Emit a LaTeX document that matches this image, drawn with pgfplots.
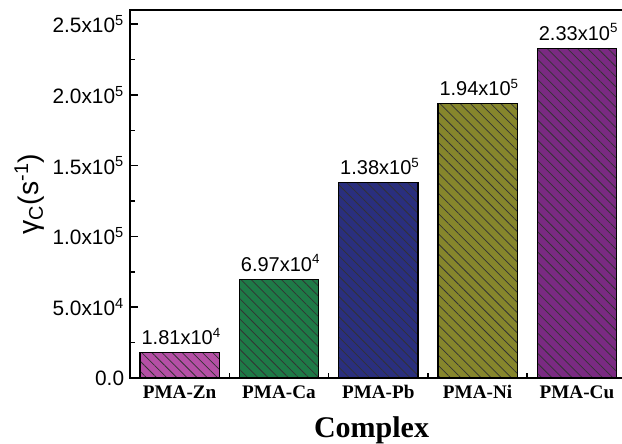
\documentclass[border=0pt]{standalone}
\usepackage{fontspec}
\setmainfont{Liberation Sans}
\newfontfamily\tnr{Liberation Serif}
\usepackage{pgfplots}
\pgfplotsset{compat=1.18}
\usetikzlibrary{patterns.meta}
\definecolor{cZn}{HTML}{B54FA5}
\definecolor{cCa}{HTML}{1E7A47}
\definecolor{cPb}{HTML}{2A2F7E}
\definecolor{cNi}{HTML}{86862C}
\definecolor{cCu}{HTML}{7A2A82}
\tikzset{hatch/.style={postaction={pattern={Lines[angle=-45, distance=4.3pt, line width=0.45pt]}, pattern color=black!80}}}
\begin{document}
\begin{tikzpicture}
\useasboundingbox (-78pt,-39.6pt) rectangle (295.2pt,226.8pt);
\begin{axis}[
  at={(0,0)}, anchor=south west,
  scale only axis, width=303.9pt, height=220.8pt,
  xmin=-0.5, xmax=4.6, ymin=0, ymax=260000,
  axis line style={line width=1.1pt},
  tick style={line width=0.9pt, black},
  tick align=inside,
  major tick length=4.8pt, minor tick length=3pt,
  xtick={0,1,2,3,4},
  xticklabels={PMA-Zn,PMA-Ca,PMA-Pb,PMA-Ni,PMA-Cu},
  minor xtick={0.5,1.5,2.5,3.5},
  xticklabel style={font=\tnr\bfseries\fontsize{11.5}{12}\selectfont, yshift=-1pt},
  ytick={0,50000,100000,150000,200000,250000},
  yticklabels={0.0,5.0x10\textsuperscript{4},1.0x10\textsuperscript{5},1.5x10\textsuperscript{5},2.0x10\textsuperscript{5},2.5x10\textsuperscript{5}},
  minor ytick={25000,75000,125000,175000,225000},
  scaled y ticks=false,
  yticklabel style={font=\fontsize{12.5}{13}\selectfont},
  xtick pos=bottom, ytick pos=left,
  xlabel={\tnr\bfseries Complex},
  xlabel style={font=\fontsize{18}{20}\selectfont, yshift=-4pt, xshift=-7pt},
  ylabel={γ\textsubscript{C}(s\textsuperscript{-1})},
  ylabel style={font=\fontsize{17}{19}\selectfont, yshift=-2pt},
  point meta=explicit symbolic,
  nodes near coords,
  every node near coord/.append style={font=\fontsize{12}{13}\selectfont, black, anchor=south, yshift=1pt, xshift=1pt},
  bar width=0.8,
]
\addplot[ybar, bar shift=0pt, fill=cZn, draw=black, line width=0.8pt, hatch] coordinates {(0,18100) [1.81x10\textsuperscript{4}]};
\addplot[ybar, bar shift=0pt, fill=cCa, draw=black, line width=0.8pt, hatch] coordinates {(1,69700) [6.97x10\textsuperscript{4}]};
\addplot[ybar, bar shift=0pt, fill=cPb, draw=black, line width=0.8pt, hatch] coordinates {(2,138000) [1.38x10\textsuperscript{5}]};
\addplot[ybar, bar shift=0pt, fill=cNi, draw=black, line width=0.8pt, hatch] coordinates {(3,194000) [1.94x10\textsuperscript{5}]};
\addplot[ybar, bar shift=0pt, fill=cCu, draw=black, line width=0.8pt, hatch] coordinates {(4,233000) [2.33x10\textsuperscript{5}]};
\end{axis}
\end{tikzpicture}
\end{document}
